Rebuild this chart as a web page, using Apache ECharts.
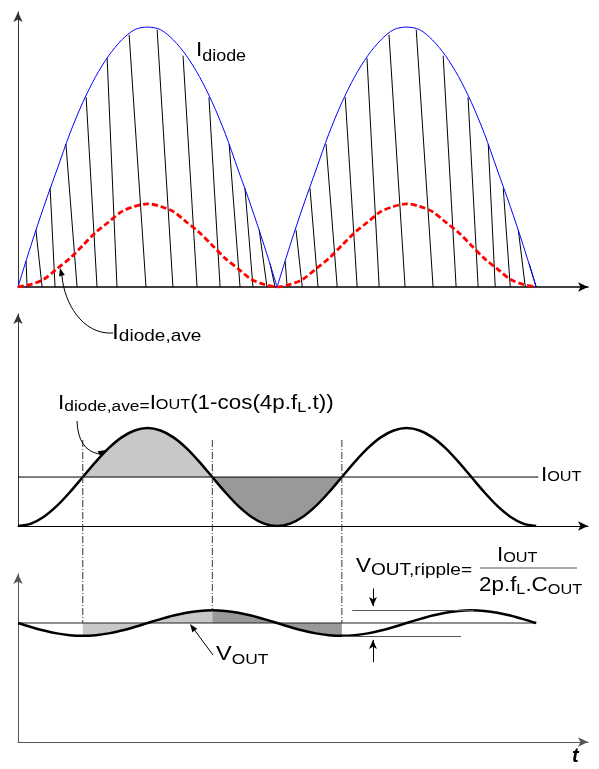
<!DOCTYPE html>
<html>
<head>
<meta charset="utf-8">
<script src="https://cdn.jsdelivr.net/npm/echarts@6/dist/echarts.min.js"></script>
<style>
html,body{margin:0;padding:0;background:#fff;}
#main{width:599px;height:769px;}
</style>
</head>
<body>
<div id="main"></div>
<script>
// time in ms, half line period = 10
var tGrid = [0,0.5,1,1.5,2,2.5,3,3.5,4,4.5,5,5.5,6,6.5,7,7.5,8,8.5,9,9.5,10,
             10.5,11,11.5,12,12.5,13,13.5,14,14.5,15,15.5,16,16.5,17,17.5,18,18.5,19,19.5,20];

// top panel: rectified envelope (blue) and diode average (red dashed), peak = 1
var iDiode = [0,0.16,0.31,0.45,0.59,0.71,0.81,0.89,0.95,0.99,1,0.99,0.95,0.89,0.81,0.71,0.59,0.45,0.31,0.16,0,
              0.16,0.31,0.45,0.59,0.71,0.81,0.89,0.95,0.99,1,0.99,0.95,0.89,0.81,0.71,0.59,0.45,0.31,0.16,0];
var iDiodeAve = [0,0.01,0.03,0.07,0.11,0.16,0.21,0.25,0.29,0.31,0.32,0.31,0.29,0.25,0.21,0.16,0.11,0.07,0.03,0.01,0,
                 0.01,0.03,0.07,0.11,0.16,0.21,0.25,0.29,0.31,0.32,0.31,0.29,0.25,0.21,0.16,0.11,0.07,0.03,0.01,0];

// charge pulses: start on envelope, end on baseline
var pulseTopT = [0.31,0.69,1.24,1.85,2.63,3.44,4.29,5.37,6.37,7.37,8.15,8.76,9.31,9.73,
                 10.31,10.73,11.27,11.89,12.63,13.47,14.32,15.37,16.41,17.37,18.15,18.73,19.31,19.73];
var pulseTopI = [0.10,0.22,0.38,0.55,0.73,0.88,0.97,0.99,0.89,0.73,0.55,0.38,0.22,0.09,
                 0.10,0.22,0.38,0.55,0.73,0.88,0.97,0.99,0.89,0.73,0.55,0.38,0.22,0.09];
var pulseEndT = [0.35,0.93,1.43,2.28,3.05,3.82,4.94,5.98,6.91,7.80,8.57,9.07,9.61,9.92,
                 10.39,10.97,11.58,12.32,13.09,13.94,14.94,16.02,16.91,17.76,18.42,19.0,19.58,20.0];

// middle panel: I_diode,ave / I_OUT
var iAveRel = [0,0.05,0.19,0.41,0.69,1,1.31,1.59,1.81,1.95,2,1.95,1.81,1.59,1.31,1,0.69,0.41,0.19,0.05,0,
               0.05,0.19,0.41,0.69,1,1.31,1.59,1.81,1.95,2,1.95,1.81,1.59,1.31,1,0.69,0.41,0.19,0.05,0];
var iOutLevel = 1;

// bottom panel: output voltage
var vOut = [10,9.67,9.37,9.13,8.98,8.93,8.98,9.13,9.37,9.67,10,10.33,10.63,10.87,11.02,11.07,11.02,10.87,10.63,10.33,10,
            9.67,9.37,9.13,8.98,8.93,8.98,9.13,9.37,9.67,10,10.33,10.63,10.87,11.02,11.07,11.02,10.87,10.63,10.33,10];
var vOutLevel = 10;

var crossT = [2.5, 7.5, 12.5];   // where I_diode,ave crosses I_OUT (dash-dot guides)

var FONT = '"Liberation Sans", Arial, sans-serif';
var STRETCH = 1.12;

function pairs(xs, ys) {
    return xs.map(function (x, i) { return [x, ys[i]]; });
}
function part(xs, ys, a, b) {
    return pairs(xs.slice(a, b + 1), ys.slice(a, b + 1));
}

function xAx(i, color, w) {
    return {
        gridIndex: i, type: 'value', min: 0, max: 22,
        axisLine: { show: true, onZero: false, symbol: ['none', 'arrow'], symbolSize: [7, 10],
            lineStyle: { color: color, width: w } },
        axisTick: { show: false }, axisLabel: { show: false }, splitLine: { show: false }
    };
}
function yAx(i, max, color, w) {
    return {
        gridIndex: i, type: 'value', min: 0, max: max,
        axisLine: { show: true, onZero: false, symbol: ['none', 'arrow'], symbolSize: [7, 10],
            lineStyle: { color: color, width: w } },
        axisTick: { show: false }, axisLabel: { show: false }, splitLine: { show: false }
    };
}

var i1 = tGrid.indexOf(crossT[0]), i2 = tGrid.indexOf(crossT[1]), i3 = tGrid.indexOf(crossT[2]);
var vMax = Math.max.apply(null, vOut), vMin = Math.min.apply(null, vOut);

var pulses = pulseTopT.map(function (t, i) {
    return { coords: [[t, pulseTopI[i]], [pulseEndT[i], 0]] };
});

var option = {
    animation: false,
    backgroundColor: '#fff',
    grid: [
        { left: 18, top: 12, width: 570, height: 275 },
        { left: 18, top: 314, width: 570, height: 212 },
        { left: 18, top: 574, width: 570, height: 168 }
    ],
    xAxis: [xAx(0, '#000', 1.5), xAx(1, '#000', 1), xAx(2, '#555', 1)],
    yAxis: [yAx(0, 1.058, '#333', 1), yAx(1, 4.33, '#333', 1), yAx(2, 14.12, '#555', 1)],
    series: [
        // top panel
        { type: 'line', xAxisIndex: 0, yAxisIndex: 0, data: part(tGrid, iDiode, 0, 20), smooth: 0.3,
          symbol: 'none', lineStyle: { color: '#0000ff', width: 1 }, z: 3 },
        { type: 'line', xAxisIndex: 0, yAxisIndex: 0, data: part(tGrid, iDiode, 20, 40), smooth: 0.3,
          symbol: 'none', lineStyle: { color: '#0000ff', width: 1 }, z: 3 },
        { type: 'lines', coordinateSystem: 'cartesian2d', xAxisIndex: 0, yAxisIndex: 0, data: pulses,
          polyline: false, silent: true, lineStyle: { color: '#000', width: 1, opacity: 1 }, z: 2 },
        { type: 'line', xAxisIndex: 0, yAxisIndex: 0, data: pairs(tGrid, iDiodeAve), smooth: 0.3,
          symbol: 'none', lineStyle: { color: '#ff0000', width: 2.8, type: [6, 3] }, z: 4 },

        // middle panel
        { type: 'line', xAxisIndex: 1, yAxisIndex: 1, data: part(tGrid, iAveRel, i1, i2), smooth: 0.3,
          symbol: 'none', lineStyle: { width: 0 }, areaStyle: { color: '#c8c8c8', opacity: 1, origin: iOutLevel }, z: 1 },
        { type: 'line', xAxisIndex: 1, yAxisIndex: 1, data: part(tGrid, iAveRel, i2, i3), smooth: 0.3,
          symbol: 'none', lineStyle: { width: 0 }, areaStyle: { color: '#999999', opacity: 1, origin: iOutLevel }, z: 1 },
        { type: 'line', xAxisIndex: 1, yAxisIndex: 1, data: [[0, iOutLevel], [20.08, iOutLevel]],
          symbol: 'none', lineStyle: { color: '#000', width: 1 }, z: 2 },
        { type: 'line', xAxisIndex: 1, yAxisIndex: 1, data: pairs(tGrid, iAveRel), smooth: 0.3,
          symbol: 'none', lineStyle: { color: '#000', width: 2.5 }, z: 3 },

        // bottom panel
        { type: 'line', xAxisIndex: 2, yAxisIndex: 2, data: part(tGrid, vOut, i1, i2), smooth: 0.3,
          symbol: 'none', lineStyle: { width: 0 }, areaStyle: { color: '#c8c8c8', opacity: 1, origin: vOutLevel }, z: 1 },
        { type: 'line', xAxisIndex: 2, yAxisIndex: 2, data: part(tGrid, vOut, i2, i3), smooth: 0.3,
          symbol: 'none', lineStyle: { width: 0 }, areaStyle: { color: '#999999', opacity: 1, origin: vOutLevel }, z: 1 },
        { type: 'line', xAxisIndex: 2, yAxisIndex: 2, data: [[0, vOutLevel], [20, vOutLevel]],
          symbol: 'none', lineStyle: { color: '#222', width: 1.2 }, z: 2,
          markLine: {
              silent: true, animation: false, symbol: ['none', 'none'],
              label: { show: false },
              lineStyle: { type: 'solid', color: '#555', width: 1 },
              data: [
                  [{ coord: [12.9, vMax] }, { coord: [17.6, vMax] }],
                  [{ coord: [12.5, vMin] }, { coord: [17.1, vMin] }],
                  [{ coord: [13.7, 12.9], symbol: 'none' },
                   { coord: [13.7, vMax + 0.35], symbol: 'arrow', symbolSize: [6, 9], lineStyle: { color: '#000' } }],
                  [{ coord: [13.7, 6.7], symbol: 'none' },
                   { coord: [13.7, vMin - 0.35], symbol: 'arrow', symbolSize: [6, 9], lineStyle: { color: '#000' } }]
              ]
          } },
        { type: 'line', xAxisIndex: 2, yAxisIndex: 2, data: pairs(tGrid, vOut), smooth: 0.3,
          symbol: 'none', lineStyle: { color: '#000', width: 2.5 }, z: 3 }
    ]
};

var chart = echarts.init(document.getElementById('main'), null, { renderer: 'canvas' });
chart.setOption(option);

// ---- annotations ----
var ctx = document.createElement('canvas').getContext('2d');

// text run with subscripts: parts = [text, size, baseline shift]
function run(x, base, parts) {
    var out = [];
    parts.forEach(function (p) {
        var s = p[1];
        var font = 'normal normal ' + s + 'px ' + FONT;
        ctx.font = font;
        out.push({
            type: 'text', x: x, y: base + (p[2] || 0) - 0.33 * s, scaleX: STRETCH, z: 20, silent: true,
            style: { text: p[0], font: font, fill: '#000', verticalAlign: 'middle', align: 'left' }
        });
        x += ctx.measureText(p[0]).width * STRETCH;
    });
    return out;
}

function arrowHead(tx, ty, fx, fy, len, hw, color) {
    var dx = tx - fx, dy = ty - fy, d = Math.sqrt(dx * dx + dy * dy);
    var ux = dx / d, uy = dy / d;
    var bx = tx - ux * len, by = ty - uy * len;
    return { type: 'polygon', z: 20, silent: true,
        shape: { points: [[tx, ty], [bx - uy * hw, by + ux * hw], [bx + uy * hw, by - ux * hw]] },
        style: { fill: color || '#000' } };
}

var g = [];

// dash-dot guides from middle panel down to the V_OUT curve
crossT.forEach(function (t) {
    var x = chart.convertToPixel({ xAxisIndex: 1 }, t);
    var yV = chart.convertToPixel({ yAxisIndex: 2 }, vOut[tGrid.indexOf(t)]);
    var yR = chart.convertToPixel({ yAxisIndex: 2 }, vOutLevel);
    g.push({ type: 'line', z: 15, silent: true,
        shape: { x1: x, y1: 440, x2: x, y2: Math.min(yV, yR) },
        style: { stroke: '#333', lineWidth: 1, lineDash: [7, 2, 1, 2] } });
});

// I_diode label
g = g.concat(run(196, 57, [['I', 20, 0], ['diode', 16, 5]]));

// I_diode,ave hook arrow
g.push({ type: 'bezierCurve', z: 20, silent: true,
    shape: { x1: 113, y1: 333, x2: 62, y2: 276, cpx1: 82, cpy1: 335, cpx2: 64, cpy2: 302 },
    style: { stroke: '#000', lineWidth: 1, fill: null } });
g.push(arrowHead(60, 268, 63, 280, 8, 3));
g = g.concat(run(112, 340, [['I', 22, 0], ['diode,ave', 17, 2]]));

// formula in middle panel
g = g.concat(run(58, 410, [['I', 20, 0], ['diode,ave=', 15.5, 2], ['I', 20, 0], ['OUT', 14.5, 0],
    ['(1-cos(4p.f', 20, 0], ['L', 14.5, 3], ['.t))', 20, 0]]));
g.push({ type: 'bezierCurve', z: 20, silent: true,
    shape: { x1: 77, y1: 421, x2: 99, y2: 454, cpx1: 78, cpy1: 450 },
    style: { stroke: '#000', lineWidth: 1, fill: null } });
g.push(arrowHead(106, 450, 97, 455, 8, 3));

// I_OUT label
g = g.concat(run(541, 482, [['I', 20, 0], ['OUT', 14.5, 0]]));

// V_OUT label and arrow
g.push({ type: 'line', z: 20, silent: true, shape: { x1: 213, y1: 655, x2: 193, y2: 628 },
    style: { stroke: '#000', lineWidth: 1 } });
g.push(arrowHead(190, 624, 213, 655, 8, 3));
g = g.concat(run(216, 661, [['V', 21, 0], ['OUT', 15.5, 4]]));

// ripple formula
g = g.concat(run(356, 573, [['V', 20, 0], ['OUT,ripple=', 17, 3]]));
g = g.concat(run(497, 562, [['I', 20, 0], ['OUT', 14.5, 1]]));
g.push({ type: 'line', z: 20, silent: true, shape: { x1: 480, y1: 568, x2: 577, y2: 568 },
    style: { stroke: '#555', lineWidth: 1.2 } });
g = g.concat(run(479, 592, [['2p.f', 20, 0], ['L', 14.5, 3], ['.C', 20, 0], ['OUT', 14.5, 3]]));

// t axis name
g.push({ type: 'text', x: 572, y: 756, z: 20, silent: true,
    style: { text: 't', font: 'italic bold 20px ' + FONT, fill: '#000', verticalAlign: 'middle', align: 'left' } });

chart.setOption({ graphic: g });
</script>
</body>
</html>
